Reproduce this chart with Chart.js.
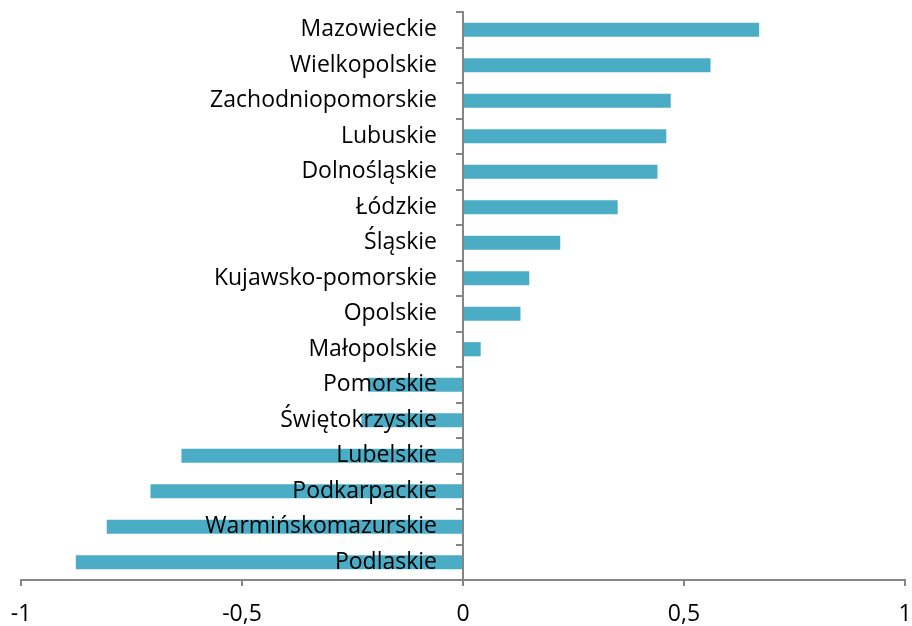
<!DOCTYPE html>
<html>
<head>
<meta charset="utf-8">
<script src="https://cdn.jsdelivr.net/npm/chart.js@4"></script>
<style>
  html, body { margin: 0; padding: 0; background: #fff; }
  #wrap { width: 912px; height: 626px; position: relative; }
</style>
</head>
<body>
<div id="wrap"><canvas id="chart"></canvas></div>
<script>
// województwa, od góry do dołu
const regions = [
  'Mazowieckie', 'Wielkopolskie', 'Zachodniopomorskie', 'Lubuskie',
  'Dolnośląskie', 'Łódzkie', 'Śląskie', 'Kujawsko-pomorskie',
  'Opolskie', 'Małopolskie', 'Pomorskie', 'Świętokrzyskie',
  'Lubelskie', 'Podkarpackie', 'Warmińskomazurskie', 'Podlaskie'
];
const values = [
  0.67, 0.56, 0.47, 0.46,
  0.44, 0.35, 0.22, 0.15,
  0.13, 0.04, -0.215, -0.23,
  -0.637, -0.707, -0.806, -0.876
];
const xMin = -1, xMax = 1, xStep = 0.5;

const axisGrey = '#868686';
const font = { family: '"Open Sans", sans-serif', size: 23 };

new Chart(document.getElementById('chart'), {
  type: 'bar',
  data: {
    labels: regions,
    datasets: [{
      data: values,
      backgroundColor: '#4BACC6',
      borderWidth: 0,
      barPercentage: 0.5,
      categoryPercentage: 0.8
    }]
  },
  options: {
    indexAxis: 'y',
    responsive: true,
    maintainAspectRatio: false,
    animation: false,
    layout: { padding: { left: 21, right: 7, top: 12, bottom: 0 } },
    plugins: { legend: { display: false }, tooltip: { enabled: false } },
    scales: {
      x: {
        min: xMin, max: xMax,
        ticks: {
          stepSize: xStep,
          color: '#000',
          font: font,
          padding: 15,
          callback: v => String(v).replace('.', ',')
        },
        grid: { drawOnChartArea: false, drawTicks: true, tickLength: 6, color: axisGrey, lineWidth: 2 },
        border: { color: axisGrey, width: 2 },
        afterFit: s => { s.height = 46; s.paddingLeft = 0; s.paddingRight = 0; }
      },
      y: {
        // oś kategorii w środku, czyli przy x = 0
        position: 'center',
        ticks: { color: '#000', font: font, padding: 20, z: 2 },
        grid: { drawOnChartArea: false, drawTicks: true, tickLength: 6, color: axisGrey, lineWidth: 2, z: 1 },
        border: { color: axisGrey, width: 2, z: 1 },
        // padding etykiet nie ma zabierać miejsca u góry i u dołu
        afterFit: s => { s.paddingTop = 0; s.paddingBottom = 0; }
      }
    }
  }
});
</script>
</body>
</html>
